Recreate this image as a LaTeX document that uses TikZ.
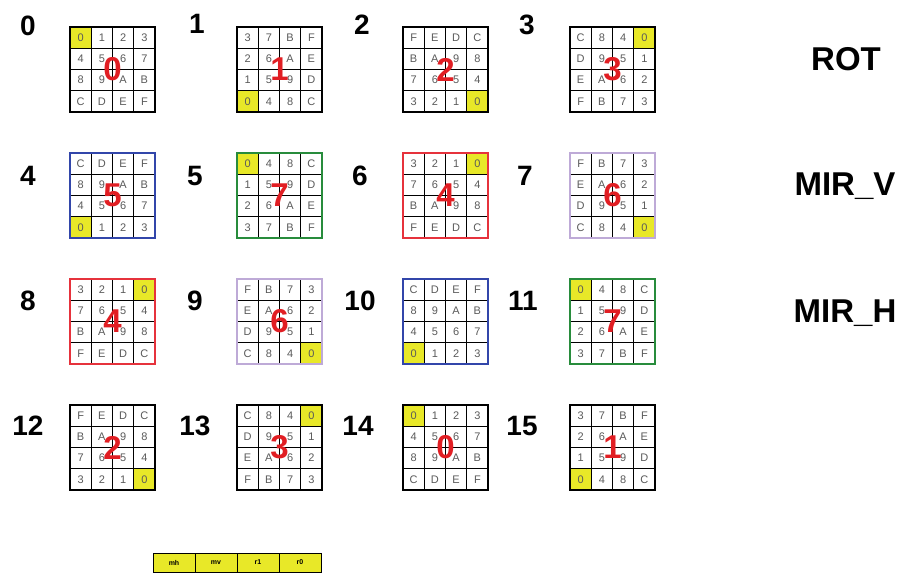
\documentclass[tikz,border=0pt]{standalone}
\usepackage{fontspec}
\setmainfont{Liberation Sans}
\definecolor{hly}{RGB}{232,232,40}
\definecolor{gblue}{RGB}{50,70,170}
\definecolor{ggreen}{RGB}{40,140,60}
\definecolor{gred}{RGB}{230,50,60}
\definecolor{gpurple}{RGB}{190,170,215}
\definecolor{celltext}{RGB}{90,90,90}
\definecolor{bigred}{RGB}{225,30,35}
\tikzset{
  cell/.style={draw=black,line width=1.2pt,minimum size=21.25pt,inner sep=0pt,
    font=\fontsize{11}{12}\selectfont,text=celltext},
  hlcell/.style={fill=hly},
  plaincell/.style={fill=white},
  gridframe/.style={line width=2.4pt,minimum size=85pt,inner sep=0pt},
  reddigit/.style={font=\fontsize{33}{36}\selectfont\bfseries,text=bigred,inner sep=0pt},
  numlabel/.style={font=\fontsize{28}{30}\selectfont\bfseries,anchor=base,inner sep=0pt},
  oplabel/.style={font=\fontsize{33}{36}\selectfont\bfseries,anchor=base,inner sep=0pt},
  barcell/.style={draw=black,line width=0.8pt,fill=hly,minimum width=42pt,minimum height=19pt,
    inner sep=0pt,font=\fontsize{7}{8}\selectfont\bfseries},
}
\newcommand\mygrid[7]{%
  \foreach \t [count=\i from 0] in {#6} {
    \pgfmathtruncatemacro\cc{mod(\i,4)}
    \pgfmathtruncatemacro\rr{floor(\i/4)}
    \ifnum\i=#5 \def\cf{hlcell}\else\def\cf{plaincell}\fi
    \node[cell,\cf] (g#1c\i) at ({#2+10.625+21.25*\cc},{#3+10.625+21.25*\rr}) {\t};
  }
  \node[gridframe,draw=#4] (g#1) at ({#2+42.5},{#3+42.5}) {};
  \node[reddigit] (g#1d) at (g#1.center) {#7};
}
\begin{document}
\begin{tikzpicture}[x=1pt,y=-1pt]
\useasboundingbox[fill=white] (0,0) rectangle (904,574);
% row 0
\mygrid{0}{70}{27}{black}{0}{0,1,2,3,4,5,6,7,8,9,A,B,C,D,E,F}{0}
\mygrid{1}{237}{27}{black}{12}{3,7,B,F,2,6,A,E,1,5,9,D,0,4,8,C}{1}
\mygrid{2}{403}{27}{black}{15}{F,E,D,C,B,A,9,8,7,6,5,4,3,2,1,0}{2}
\mygrid{3}{570}{27}{black}{3}{C,8,4,0,D,9,5,1,E,A,6,2,F,B,7,3}{3}
% row 1
\mygrid{4}{70}{153}{gblue}{12}{C,D,E,F,8,9,A,B,4,5,6,7,0,1,2,3}{5}
\mygrid{5}{237}{153}{ggreen}{0}{0,4,8,C,1,5,9,D,2,6,A,E,3,7,B,F}{7}
\mygrid{6}{403}{153}{gred}{3}{3,2,1,0,7,6,5,4,B,A,9,8,F,E,D,C}{4}
\mygrid{7}{570}{153}{gpurple}{15}{F,B,7,3,E,A,6,2,D,9,5,1,C,8,4,0}{6}
% row 2
\mygrid{8}{70}{279}{gred}{3}{3,2,1,0,7,6,5,4,B,A,9,8,F,E,D,C}{4}
\mygrid{9}{237}{279}{gpurple}{15}{F,B,7,3,E,A,6,2,D,9,5,1,C,8,4,0}{6}
\mygrid{10}{403}{279}{gblue}{12}{C,D,E,F,8,9,A,B,4,5,6,7,0,1,2,3}{}
\mygrid{11}{570}{279}{ggreen}{0}{0,4,8,C,1,5,9,D,2,6,A,E,3,7,B,F}{7}
% row 3
\mygrid{12}{70}{405}{black}{15}{F,E,D,C,B,A,9,8,7,6,5,4,3,2,1,0}{2}
\mygrid{13}{237}{405}{black}{3}{C,8,4,0,D,9,5,1,E,A,6,2,F,B,7,3}{3}
\mygrid{14}{403}{405}{black}{0}{0,1,2,3,4,5,6,7,8,9,A,B,C,D,E,F}{0}
\mygrid{15}{570}{405}{black}{12}{3,7,B,F,2,6,A,E,1,5,9,D,0,4,8,C}{1}
% number labels
\node[numlabel] (n0) at (28,35) {0};
\node[numlabel] (n1) at (197,33) {1};
\node[numlabel] (n2) at (362,34) {2};
\node[numlabel] (n3) at (527,34) {3};
\node[numlabel] (n4) at (28,185) {4};
\node[numlabel] (n5) at (195,185) {5};
\node[numlabel] (n6) at (360,185) {6};
\node[numlabel] (n7) at (525,185) {7};
\node[numlabel] (n8) at (28,310) {8};
\node[numlabel] (n9) at (195,310) {9};
\node[numlabel] (n10) at (360,310) {10};
\node[numlabel] (n11) at (523,310) {11};
\node[numlabel] (n12) at (28,435) {12};
\node[numlabel] (n13) at (195,435) {13};
\node[numlabel] (n14) at (358,435) {14};
\node[numlabel] (n15) at (522,435) {15};
% operation labels
\node[oplabel] (rot) at (846,70) {ROT};
\node[oplabel] (mirv) at (845,195) {MIR\_V};
\node[oplabel] (mirh) at (845,322) {MIR\_H};
% bottom bar
\node[barcell] (bmh) at (174,562.5) {mh};
\node[barcell] (bmv) at (216,562.5) {mv};
\node[barcell] (br1) at (258,562.5) {r1};
\node[barcell] (br0) at (300,562.5) {r0};
\end{tikzpicture}
\end{document}
